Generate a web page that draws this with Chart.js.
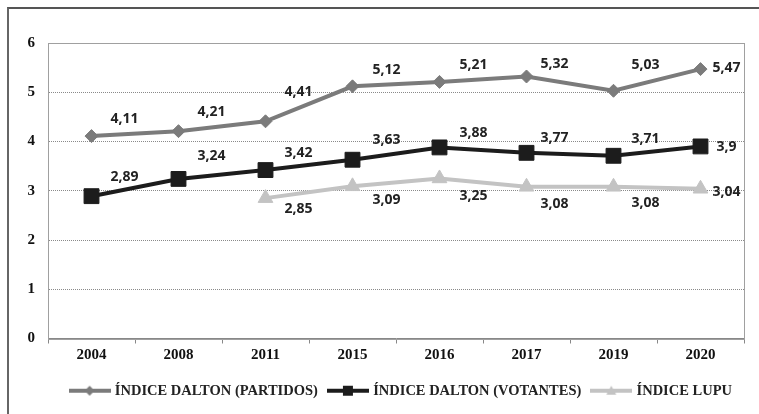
<!DOCTYPE html>
<html>
<head>
<meta charset="utf-8">
<script src="https://cdn.jsdelivr.net/npm/chart.js@4"></script>
<style>
  html, body { margin: 0; padding: 0; background: #fff; }
  #wrap { position: relative; width: 759px; height: 414px; overflow: hidden; }
  #frame { position: absolute; left: 7px; top: 7px; width: 800px; height: 500px;
           border-top: 2px solid #555; border-left: 2px solid #666; box-sizing: border-box; }
  canvas { position: absolute; left: 0; top: 0; }
</style>
</head>
<body>
<div id="wrap">
  <div id="frame"></div>
  <canvas id="grafica" width="759" height="414"></canvas>
</div>
<script>
// datos
const anios = ['2004', '2008', '2011', '2015', '2016', '2017', '2019', '2020'];
const daltonPartidos = [4.11, 4.21, 4.41, 5.12, 5.21, 5.32, 5.03, 5.47];
const daltonVotantes = [2.89, 3.24, 3.42, 3.63, 3.88, 3.77, 3.71, 3.9];
const lupu = [null, null, 2.85, 3.09, 3.25, 3.08, 3.08, 3.04];
const nombres = ['ÍNDICE DALTON (PARTIDOS)', 'ÍNDICE DALTON (VOTANTES)', 'ÍNDICE LUPU'];
const ticksY = [0, 1, 2, 3, 4, 5, 6];

// desplazamiento de las etiquetas respecto al punto (solo estilo)
const etiquetaDx = [33, 33, 33, 34, 34, 28, 32, 26];
const etiquetaDy = [
  [-17, -19, -29, -16, -17, -12, -26, -1],
  [-19, -23, -17, -20, -14, -15, -17, 1],
  [0, 0, 11, 14, 18, 17, 16, 3]
];

const colores = ['#7b7b7b', '#1c1c1c', '#c3c3c3'];
const estilos = ['rectRot', 'rect', 'triangle'];
const radios = [6.5, 10.5, 8.5];

// icono de leyenda: linea con marcador
function iconoLeyenda(color, estilo) {
  const c = document.createElement('canvas');
  c.width = 42; c.height = 14;
  const ctx = c.getContext('2d');
  ctx.strokeStyle = color; ctx.fillStyle = color; ctx.lineWidth = 4;
  ctx.beginPath(); ctx.moveTo(0, 7); ctx.lineTo(42, 7); ctx.stroke();
  ctx.beginPath();
  if (estilo === 'rectRot') { ctx.moveTo(21, 2); ctx.lineTo(26, 7); ctx.lineTo(21, 12); ctx.lineTo(16, 7); }
  else if (estilo === 'rect') { ctx.rect(16, 2, 10, 10); }
  else { ctx.moveTo(21, 2); ctx.lineTo(26, 11); ctx.lineTo(16, 11); }
  ctx.closePath(); ctx.fill();
  return c;
}
const iconos = colores.map((c, i) => iconoLeyenda(c, estilos[i]));

const series = [daltonPartidos, daltonVotantes, lupu];

const data = {
  labels: anios,
  datasets: series.map((valores, i) => ({
    label: nombres[i],
    data: valores,
    borderColor: colores[i],
    backgroundColor: colores[i],
    borderWidth: 4,
    pointStyle: estilos[i],
    pointRadius: radios[i],
    pointBorderWidth: 1,
    pointHoverRadius: radios[i],
    tension: 0,
    spanGaps: false
  })).reverse()
};

const etiquetas = {
  id: 'etiquetas',
  afterDatasetsDraw(chart) {
    const ctx = chart.ctx;
    ctx.save();
    ctx.font = 'bold 14px "Open Sans"';
    ctx.fillStyle = '#222';
    ctx.textAlign = 'center';
    ctx.textBaseline = 'middle';
    chart.data.datasets.forEach((ds, di) => {
      const s = nombres.indexOf(ds.label);
      chart.getDatasetMeta(di).data.forEach((p, j) => {
        const v = ds.data[j];
        if (v == null) return;
        ctx.fillText(String(v).replace('.', ','), p.x + etiquetaDx[j], p.y + etiquetaDy[s][j]);
      });
    });
    ctx.restore();
  }
};

const marco = {
  id: 'marco',
  beforeDatasetsDraw(chart) {
    const a = chart.chartArea, ctx = chart.ctx;
    ctx.save();
    ctx.strokeStyle = '#a0a0a0';
    ctx.lineWidth = 1;
    ctx.strokeRect(Math.round(a.left) + 0.5, Math.round(a.top) + 0.5,
      Math.round(a.right - a.left), Math.round(a.bottom - a.top));
    ctx.restore();
  }
};

const config = {
  type: 'line',
  data: data,
  plugins: [marco, etiquetas],
  options: {
    responsive: false,
    animation: false,
    layout: { padding: { top: 43, right: 15, left: 0, bottom: 6 } },
    scales: {
      x: {
        offset: true,
        grid: { display: true, drawOnChartArea: false, offset: true, tickLength: 5, color: '#888' },
        border: { color: '#888' },
        ticks: { color: '#111', font: { family: '"Liberation Serif"', weight: 'bold', size: 15 }, padding: 3 },
        afterFit(s) { s.height = 33; }
      },
      y: {
        min: 0,
        max: 6,
        afterBuildTicks(s) { s.ticks = ticksY.map(v => ({ value: v })); },
        grid: { color: '#8a8a8a', tickLength: 0, lineWidth: 1 },
        border: { color: '#999', dash: [1, 1] },
        ticks: { color: '#111', font: { family: '"Liberation Serif"', weight: 'bold', size: 15 }, padding: 13 },
        afterFit(s) { s.width = 48; }
      }
    },
    plugins: {
      legend: {
        position: 'bottom',
        align: 'end',
        reverse: true,
        labels: {
          usePointStyle: true,
          pointStyleWidth: 36,
          padding: 12,
          color: '#222',
          font: { family: '"Liberation Serif"', weight: 'bold', size: 14.5 },
          generateLabels(chart) {
            const base = Chart.defaults.plugins.legend.labels.generateLabels(chart);
            return base.map(l => {
              const s = nombres.indexOf(l.text);
              l.pointStyle = iconos[s];
              return l;
            });
          }
        }
      },
      tooltip: { enabled: false }
    }
  }
};

const chart = new Chart(document.querySelector('#grafica'), config);
</script>
</body>
</html>
